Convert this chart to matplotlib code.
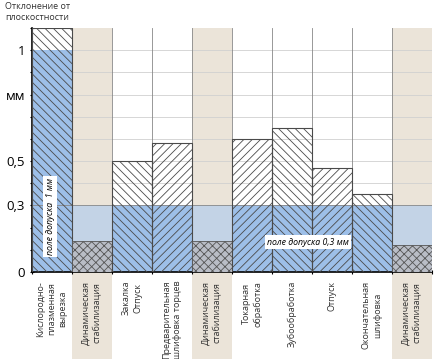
import matplotlib.pyplot as plt
from matplotlib.patches import Rectangle

labels = ['Кислородно-\nплазменная\nвырезка', 'Динамическая\nстабилизация', 'Закалка\nОтпуск',
          'Предварительная\nшлифовка торцев', 'Динамическая\nстабилизация', 'Токарная\nобработка',
          'Зубообработка', 'Отпуск', 'Окончательная\nшлифовка', 'Динамическая\nстабилизация']
values = [1.1, 0.14, 0.50, 0.58, 0.14, 0.60, 0.65, 0.47, 0.35, 0.12]
tolerance = [1.0, 0.3, 0.3, 0.3, 0.3, 0.3, 0.3, 0.3, 0.3, 0.3]
kind = ['bar', 'stab', 'bar', 'bar', 'stab', 'bar', 'bar', 'bar', 'bar', 'stab']
hatches = ['\\\\\\\\', 'xxxx', '\\\\\\\\', '////', 'xxxx', '////', '\\\\\\\\', '////', '\\\\\\\\', 'xxxx']

plt.rcParams['hatch.linewidth'] = 0.6
plt.rcParams['font.family'] = ['Open Sans', 'DejaVu Sans']

fig = plt.figure(figsize=(4.36, 3.59), dpi=100)
ax = fig.add_axes([32/436, 1-272/359, 400/436, 244/359])
ax.set_xlim(0, len(labels))
ax.set_ylim(0, 1.1)

beige = '#ebe4d9'
blue = '#9dbfe8'
for i, k in enumerate(kind):
    if k == 'stab':
        # beige band continues under tick labels
        ax.add_patch(Rectangle((i, -0.45), 1, 1.55, facecolor=beige, edgecolor='none',
                               zorder=0, clip_on=False))
        ax.add_patch(Rectangle((i, 0), 1, 0.3, facecolor='#c3d3e6', edgecolor='none', zorder=1))
        ax.add_patch(Rectangle((i, 0), 1, values[i], facecolor='#b9bdc6', edgecolor='#555555',
                               hatch=hatches[i], lw=0.6, zorder=3))
    else:
        ax.add_patch(Rectangle((i, 0), 1, tolerance[i], facecolor=blue,
                               edgecolor='none', zorder=2))
        ax.add_patch(Rectangle((i, 0), 1, values[i], facecolor='none', edgecolor='#4a4a4a',
                               hatch=hatches[i], lw=0.8, zorder=3))

ax.axhline(0.3, color='#888888', lw=0.6, zorder=2.5)

for y in [0.1 * j for j in range(1, 11)]:
    ax.axhline(y, color='#d0d0d0', lw=0.6, zorder=0.5)
for x in range(1, len(labels)):
    ax.axvline(x, color='#888888', lw=0.6, zorder=0.6)

ax.set_yticks([0, 0.3, 0.5, 0.8, 1.0])
ax.set_yticklabels(['0', '0,3', '0,5', 'мм', '1'], fontsize=9.5)
ax.set_yticks([0.1 * j for j in range(12)], minor=True)
ax.tick_params(axis='y', which='both', length=3, direction='inout', width=0.8)
ax.set_xticks(range(len(labels) + 1))
ax.set_xticklabels([])
ax.tick_params(axis='x', length=3, direction='inout', width=0.8)
for i, lab in enumerate(labels):
    ax.text(i + 0.5, -0.04, lab, rotation=90, ha='center', va='top', fontsize=6.5,
            color='#333333', linespacing=1.3)

for s in ['top', 'right']:
    ax.spines[s].set_visible(False)
ax.spines['left'].set_linewidth(1.2)
ax.spines['bottom'].set_linewidth(1.2)

ax.text(0.45, 0.25, 'поле допуска  1 мм', rotation=90, ha='center', va='center', fontsize=6.3,
        style='italic', zorder=5, bbox=dict(facecolor='white', edgecolor='none', pad=1.5))
ax.text(6.9, 0.135, 'поле допуска 0,3 мм', ha='center', va='center', fontsize=6.3,
        style='italic', zorder=5, bbox=dict(facecolor='white', edgecolor='none', pad=1.5))

fig.text(5/436, 1-12/359, 'Отклонение от\nплоскостности', fontsize=6.5, color='#333333',
         ha='left', va='center', linespacing=1.4)

fig.savefig('out.png', dpi=100)
